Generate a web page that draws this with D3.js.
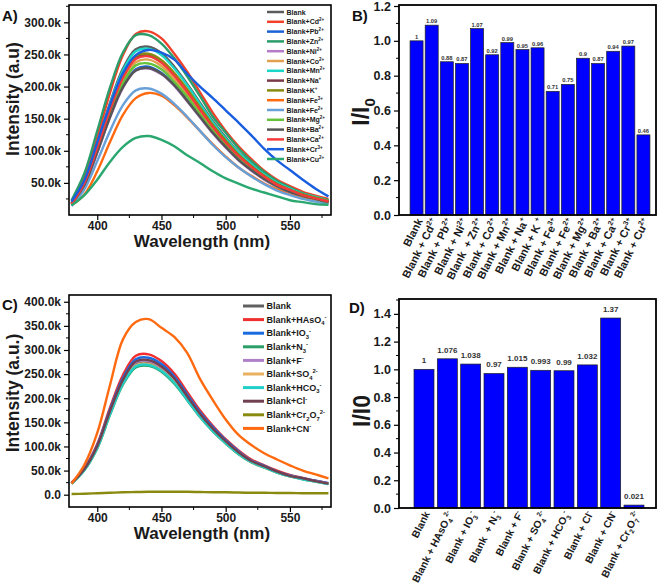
<!DOCTYPE html>
<html><head><meta charset="utf-8">
<script src="https://cdn.jsdelivr.net/npm/d3@7"></script>
<style>
body{margin:0;background:#fff}
svg{display:block}
text{font-family:"Liberation Sans",Arial,sans-serif;font-weight:bold;white-space:pre}
</style>
</head><body><svg id="c" width="662" height="584"></svg>
<script>
// ---------- DATA ----------
const wavelengths = [380,390,400,410,420,430,440,450,460,470,480,490,500,510,520,530,540,550,560,570,580];

const metalNames = ["Blank","Blank+Cd^{2+}","Blank+Pb^{2+}","Blank+Zn^{2+}","Blank+Ni^{2+}","Blank+Co^{2+}","Blank+Mn^{2+}","Blank+Na^{+}","Blank+K^{+}","Blank+Fe^{3+}","Blank+Fe^{2+}","Blank+Mg^{2+}","Blank+Ba^{2+}","Blank+Ca^{2+}","Blank+Cr^{3+}","Blank+Cu^{2+}"];
const metalColors = ["#5c5c5c","#f2412a","#1a62d6","#2a9d6a","#b47cc8","#e0a050","#19d6c8","#7a3a48","#8a8a10","#ff6a10","#6aa0d8","#66c23a","#555555","#f43a3a","#1a5ee0","#2aa870"];
// intensities in thousands (k)
const metalSpectra = [
  [19,53,111,175,228,258,262,252,231,204,175,146,121,98,80,64,50,41,33,28,23],
  [20,58,121,191,249,282,286,275,251,223,191,159,131,107,87,69,55,45,36,30,25],
  [16,47,98,154,200,227,231,221,203,179,154,128,106,86,70,56,44,36,29,24,20],
  [23,65,131,199,253,280,280,267,244,216,185,153,128,104,84,67,53,43,34,28,23],
  [16,46,97,152,198,225,228,219,201,177,152,127,105,85,69,55,44,36,29,24,20],
  [17,49,102,161,210,238,242,232,212,188,161,134,111,90,73,59,46,38,31,26,21],
  [18,52,110,173,225,255,259,249,228,202,173,144,119,97,79,63,50,41,33,28,22],
  [18,50,106,166,217,246,249,239,219,194,166,139,115,93,76,60,48,39,32,26,21],
  [18,51,107,168,218,248,251,241,221,196,168,140,116,94,76,61,48,39,32,27,22],
  [15,32,68,114,156,182,190,186,171,152,131,110,91,74,61,49,40,32,27,23,19],
  [14,40,84,131,171,194,197,189,173,153,131,109,90,74,60,48,38,31,25,21,17],
  [17,48,100,157,205,233,236,227,207,184,157,131,108,88,72,57,45,37,30,25,20],
  [17,47,98,153,199,225,229,220,202,178,153,128,106,86,70,56,45,36,30,25,20],
  [17,50,105,164,214,243,247,237,217,192,164,137,113,92,75,60,47,39,31,26,21],
  [21,54,113,172,221,249,257,253,242,220,200,182,163,144,124,103,85,70,55,41,29],
  [15,31,55,83,106,120,123,117,107,93,81,68,57,49,41,35,29,23,20,17,16]
];

const anionNames = ["Blank","Blank+HAsO_{4}^{-}","Blank+IO_{3}^{-}","Blank+N_{3}^{-}","Blank+F^{-}","Blank+SO_{4}^{2-}","Blank+HCO_{3}^{-}","Blank+Cl^{-}","Blank+Cr_{2}O_{7}^{2-}","Blank+CN^{-}"];
const anionColors = ["#606060","#f03030","#1a6ae0","#2aa068","#b080c8","#e8b060","#20d0c8","#704050","#8a8a10","#ff6a10"];
const anionSpectra = [
  [23,52,99,171,235,272,275,262,237,201,166,135,109,87,69,58,47,39,33,28,23],
  [25,55,105,181,248,288,291,277,251,213,175,143,115,92,73,61,50,41,35,29,24],
  [24,54,103,177,242,281,284,271,245,208,171,140,113,90,71,60,48,40,34,29,24],
  [23,51,96,166,228,264,267,255,230,196,161,131,106,84,67,56,46,38,32,27,22],
  [24,53,100,172,236,274,277,264,239,203,167,136,110,88,70,58,47,39,33,28,23],
  [23,52,98,169,231,268,271,258,234,199,163,133,107,86,68,57,46,38,33,27,23],
  [23,51,97,167,230,266,269,257,232,197,162,132,107,85,68,57,46,38,32,27,22],
  [24,53,101,174,238,276,279,266,241,204,168,137,111,88,70,59,48,39,34,28,23],
  [1.5,2,3,4,5,5.5,6,6,6,6,5.5,5,5,4.5,4,4,3.5,3.5,3,3,3],
  [23,62,128,228,322,358,364,346,327,294,240,196,156,124,103,86,73,61,50,42,34]
];

const metalBarLabels = ["Blank","Blank + Cd^{2+}","Blank + Pb^{2+}","Blank + Ni^{2+}","Blank  + Zn^{2+}","Blank + Co^{2+}","Blank + Mn^{2+}","Blank + Na^{+}","Blank + K ^{+}","Blank + Fe^{3+}","Blank + Fe^{2+}","Blank + Mg^{2+}","Blank + Ba^{2+}","Blank + Ca^{2+}","Blank + Cr^{3+}","Blank + Cu^{2+}"];
const metalRatios = [1,1.09,0.88,0.87,1.07,0.92,0.99,0.95,0.96,0.71,0.75,0.9,0.87,0.94,0.97,0.46];

const anionBarLabels = ["Blank","Blank + HAsO_{4}^{2-}","Blank + IO_{3}^{-}","Blank  + N_{3}^{-}","Blank + F^{-}","Blank + SO_{4}^{2-}","Blank + HCO_{3}^{-}","Blank + Cl^{-}","Blank + CN^{-}","Blank + Cr_{2}O_{7}^{2-}"];
const anionRatios = [1,1.076,1.038,0.97,1.015,0.993,0.99,1.032,1.37,0.021];

const wavelengthTicks = [400,450,500,550];
const wavelengthMinor = [425,475,525,575];
const intensityTicksA = [50,100,150,200,250,300];
const intensityMinorA = [25,75,125,175,225,275,325];
const intensityTicksC = [0,50,100,150,200,250,300,350,400];
const intensityMinorC = [25,75,125,175,225,275,325,375];
const ratioTicksB = [0,0.2,0.4,0.6,0.8,1.0,1.2];
const ratioMinorB = [0.1,0.3,0.5,0.7,0.9,1.1];
const ratioTicksD = [0,0.2,0.4,0.6,0.8,1.0,1.2,1.4];
const ratioMinorD = [0.1,0.3,0.5,0.7,0.9,1.1,1.3,1.5];

// ---------- DRAWING ----------
const svg = d3.select('#c');

function rich(sel, str, fs) {
  const parts = str.split(/(\^\{[^}]*\}|_\{[^}]*\})/).filter(s => s.length);
  let cur = 0;
  parts.forEach(p => {
    let off = 0, txt = p, size = fs;
    if (p[0] === '^' && p[1] === '{') { off = -0.42 * fs; txt = p.slice(2, -1); size = fs * 0.65; }
    else if (p[0] === '_' && p[1] === '{') { off = 0.28 * fs; txt = p.slice(2, -1); size = fs * 0.65; }
    sel.append('tspan').attr('dy', off - cur).attr('font-size', size).text(txt);
    cur = off;
  });
}

function minorTicksY(g, y, vals, xPos, len) {
  g.selectAll(null).data(vals.filter(v => v >= y.domain()[0] && v <= y.domain()[1])).enter()
    .append('line').attr('x1', xPos).attr('x2', xPos - len)
    .attr('y1', d => y(d)).attr('y2', d => y(d)).attr('stroke', '#000').attr('stroke-width', 1);
}
function minorTicksX(g, x, vals, yPos, len) {
  g.selectAll(null).data(vals.filter(v => v >= x.domain()[0] && v <= x.domain()[1])).enter()
    .append('line').attr('y1', yPos).attr('y2', yPos + len)
    .attr('x1', d => x(d)).attr('x2', d => x(d)).attr('stroke', '#000').attr('stroke-width', 1);
}

function styleAxis(ax, fs) {
  ax.select('.domain').remove();
  ax.selectAll('.tick line').attr('stroke', '#000').attr('stroke-width', 1.2);
  ax.selectAll('.tick text').attr('fill', '#1a1a1a').attr('font-size', fs)
    .attr('font-family', '"Liberation Sans",Arial,sans-serif').attr('font-weight', 'bold');
}

function spectraPanel(cfg) {
  const x = d3.scaleLinear().domain([378, 582]).range([cfg.left, cfg.right]);
  const y = d3.scaleLinear().domain(cfg.yDomain).range([cfg.bottom, cfg.top]);
  const g = svg.append('g');
  const cid = 'clip' + cfg.id;
  g.append('clipPath').attr('id', cid).append('rect')
    .attr('x', cfg.left).attr('y', cfg.top).attr('width', cfg.right - cfg.left).attr('height', cfg.bottom - cfg.top);
  const line = d3.line().x((d, i) => x(wavelengths[i])).y(d => y(d)).curve(d3.curveCatmullRom.alpha(0.5));
  const lg = g.append('g').attr('clip-path', `url(#${cid})`);
  cfg.values.forEach((vals, i) => {
    lg.append('path').attr('d', line(vals)).attr('fill', 'none')
      .attr('stroke', cfg.colors[i]).attr('stroke-width', 2.4).attr('stroke-linejoin', 'round');
  });
  // legend
  cfg.names.forEach((n, i) => {
    const cy = cfg.legY + i * cfg.legStep;
    g.append('line').attr('x1', cfg.legX).attr('x2', cfg.legX + cfg.legLen).attr('y1', cy).attr('y2', cy)
      .attr('stroke', cfg.colors[i]).attr('stroke-width', cfg.legW);
    const t = g.append('text').attr('x', cfg.legX + cfg.legLen + 2.5).attr('y', cy + cfg.legFs * 0.36)
      .attr('font-size', cfg.legFs).attr('fill', '#1a1a1a');
    rich(t, n, cfg.legFs);
  });
  // frame
  g.append('rect').attr('x', cfg.left).attr('y', cfg.top).attr('width', cfg.right - cfg.left)
    .attr('height', cfg.bottom - cfg.top).attr('fill', 'none').attr('stroke', '#000').attr('stroke-width', 1.6);
  // axes
  const ay = g.append('g').attr('transform', `translate(${cfg.left},0)`)
    .call(d3.axisLeft(y).tickValues(cfg.yTicks).tickSize(5).tickPadding(3)
      .tickFormat(d => d === 0 ? '0.0' : d.toFixed(1) + 'k'));
  styleAxis(ay, 12);
  minorTicksY(g, y, cfg.yMinor, cfg.left, 3);
  const ax = g.append('g').attr('transform', `translate(0,${cfg.bottom})`)
    .call(d3.axisBottom(x).tickValues(wavelengthTicks).tickSize(5).tickPadding(1.5).tickFormat(d3.format('d')));
  styleAxis(ax, 12);
  minorTicksX(g, x, wavelengthMinor, cfg.bottom, 3);
  // titles
  g.append('text').attr('x', (cfg.left + cfg.right) / 2 + 2).attr('y', cfg.bottom + cfg.xtDy).attr('text-anchor', 'middle')
    .attr('font-size', 17).attr('fill', '#1a1a1a').text('Wavelength (nm)');
  g.append('text').attr('transform', `translate(${cfg.ytX},${cfg.ytY}) rotate(-90)`).attr('text-anchor', 'middle')
    .attr('font-size', 17.5).attr('fill', '#1a1a1a').text(cfg.yTitle);
  g.append('text').attr('x', cfg.tagX).attr('y', cfg.tagY).attr('font-size', 15).attr('fill', '#111').text(cfg.tag);
}

function barPanel(cfg) {
  const x = d3.scaleBand().domain(cfg.labels).range(cfg.xRange).paddingInner(cfg.pin).paddingOuter(cfg.pout);
  const y = d3.scaleLinear().domain(cfg.yDomain).range([cfg.bottom, cfg.yTop]);
  const g = svg.append('g');
  g.selectAll(null).data(cfg.values).enter().append('rect')
    .attr('x', (d, i) => x(cfg.labels[i])).attr('width', x.bandwidth())
    .attr('y', d => y(d)).attr('height', d => cfg.bottom - y(d))
    .attr('fill', '#0000ff').attr('stroke', '#222').attr('stroke-width', 0.7);
  g.selectAll(null).data(cfg.values).enter().append('text')
    .attr('x', (d, i) => x(cfg.labels[i]) + x.bandwidth() / 2).attr('y', d => y(d) - cfg.valGap)
    .attr('text-anchor', 'middle').attr('font-size', cfg.valFs).attr('fill', '#333')
    .text(d => String(d));
  g.append('rect').attr('x', cfg.left).attr('y', cfg.top).attr('width', cfg.right - cfg.left)
    .attr('height', cfg.bottom - cfg.top).attr('fill', 'none').attr('stroke', '#000').attr('stroke-width', 1.8);
  const ay = g.append('g').attr('transform', `translate(${cfg.left},0)`)
    .call(d3.axisLeft(y).tickValues(cfg.yTicks).tickSize(5).tickPadding(3).tickFormat(d => d.toFixed(1)));
  styleAxis(ay, 12.5);
  minorTicksY(g, y, cfg.yMinor, cfg.left, 3);
  cfg.labels.forEach((l, i) => {
    const cx = x(l) + x.bandwidth() / 2 + 3;
    const t = g.append('text').attr('transform', `translate(${cx},${cfg.bottom + 4}) rotate(${cfg.angle})`)
      .attr('text-anchor', 'end').attr('x', 0).attr('y', cfg.labFs * 0.35)
      .attr('font-size', cfg.labFs).attr('fill', '#1a1a1a');
    rich(t, l, cfg.labFs);
  });
  const yt = g.append('text').attr('transform', `translate(${cfg.ytX},${cfg.ytY}) rotate(-90)`)
    .attr('text-anchor', 'middle').attr('font-size', 23).attr('fill', '#1a1a1a');
  if (cfg.subZero) { rich(yt, 'I/I_{0}', 23); } else { yt.text('I/I0'); }
  g.append('text').attr('x', cfg.tagX).attr('y', cfg.tagY).attr('font-size', 15).attr('fill', '#111').text(cfg.tag);
}

spectraPanel({
  id: 'A', left: 69, right: 331, top: 5, bottom: 215, yDomain: [0, 327],
  yTicks: intensityTicksA, yMinor: intensityMinorA, names: metalNames, colors: metalColors, values: metalSpectra,
  legX: 267, legLen: 17, legY: 12, legStep: 9.8, legFs: 7, legW: 2.5, xtDy: 31.5,
  yTitle: 'Intensity (a.u)', ytX: 19, ytY: 99, tag: 'A)', tagX: 2, tagY: 21
});
spectraPanel({
  id: 'C', left: 69, right: 331, top: 295, bottom: 507, yDomain: [-25.5, 414],
  yTicks: intensityTicksC, yMinor: intensityMinorC, names: anionNames, colors: anionColors, values: anionSpectra,
  legX: 243, legLen: 21, legY: 306, legStep: 13.6, legFs: 9, legW: 3, xtDy: 32,
  yTitle: 'Intensity (a.u.)', ytX: 19, ytY: 393, tag: 'C)', tagX: 2, tagY: 310
});
barPanel({
  labels: metalBarLabels, values: metalRatios, xRange: [409, 651], pin: 0.14, pout: 0.07,
  left: 399, right: 656, top: 5, bottom: 215, yTop: 6, yDomain: [0, 1.2],
  yTicks: ratioTicksB, yMinor: ratioMinorB, valFs: 5.8, valGap: 2, labFs: 11, angle: -63,
  ytX: 369, ytY: 112, subZero: true, tag: 'B)', tagX: 352, tagY: 21
});
barPanel({
  labels: anionBarLabels, values: anionRatios, xRange: [407, 651], pin: 0.143, pout: 0.3,
  left: 399, right: 656, top: 299, bottom: 508, yTop: 300, yDomain: [0, 1.5],
  yTicks: ratioTicksD, yMinor: ratioMinorD, valFs: 8, valGap: 6, labFs: 10.3, angle: -63,
  ytX: 370, ytY: 411, subZero: false, tag: 'D)', tagX: 349, tagY: 313
});
</script>
</body></html>
